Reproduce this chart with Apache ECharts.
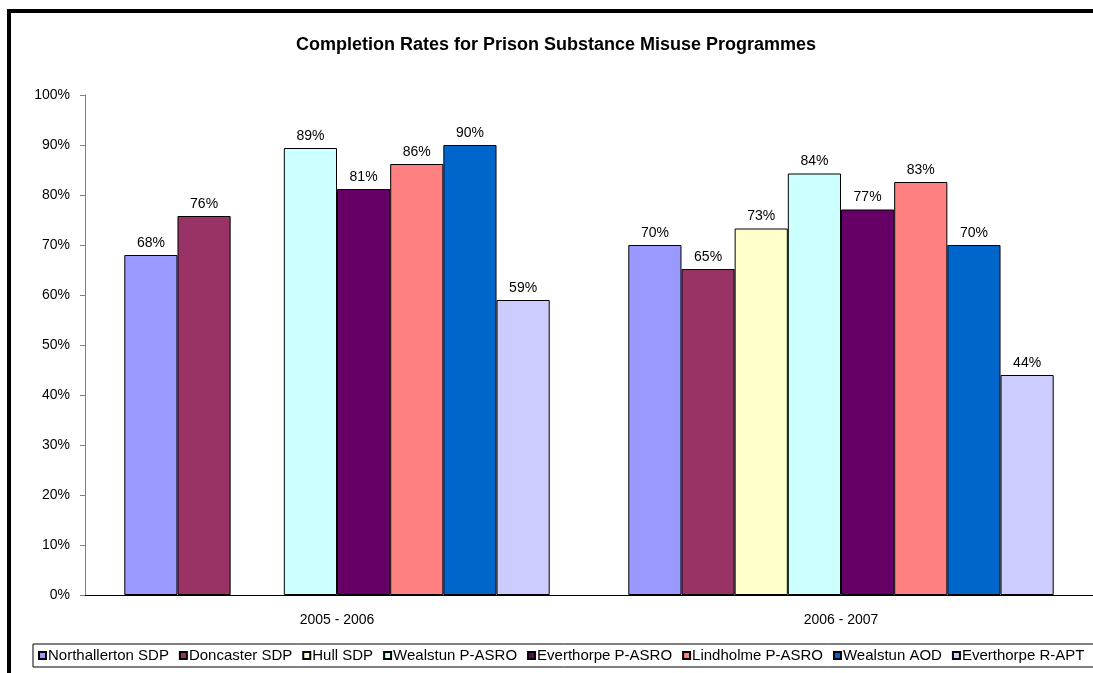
<!DOCTYPE html>
<html>
<head>
<meta charset="utf-8">
<script src="https://cdn.jsdelivr.net/npm/echarts@6/dist/echarts.min.js"></script>
<style>
  html, body { margin: 0; padding: 0; background: #fff; }
  #chart { width: 1093px; height: 673px; }
</style>
</head>
<body>
<div id="chart"></div>
<script>
// periods on the x axis
const periods = ['2005 - 2006', '2006 - 2007'];
// programme names (legend order)
const programmes = ['Northallerton SDP', 'Doncaster SDP', 'Hull SDP', 'Wealstun P-ASRO',
  'Everthorpe P-ASRO', 'Lindholme P-ASRO', 'Wealstun AOD', 'Everthorpe R-APT'];
// completion rates in %, one array per programme (null = no data)
const northallerton = [68.0, 70.0];
const doncaster = [75.8, 65.2];
const hull = [null, 73.3];
const wealstunAsro = [89.4, 84.3];
const everthorpeAsro = [81.2, 77.1];
const lindholme = [86.2, 82.6];
const wealstunAod = [90.0, 70.0];
const everthorpeRapt = [59.0, 44.0];
const yTicks = [0, 10, 20, 30, 40, 50, 60, 70, 80, 90, 100];

const colors = ['#9999ff', '#993366', '#ffffcc', '#ccffff', '#660066', '#ff8080', '#0066cc', '#ccccff'];
const values = [northallerton, doncaster, hull, wealstunAsro, everthorpeAsro, lindholme, wealstunAod, everthorpeRapt];
const font = 'Liberation Sans, Arial, sans-serif';

let myChart = echarts.init(document.getElementById('chart'));
myChart.setOption({
    animation: false,
    color: colors,
    title: {
        text: 'Completion Rates for Prison Substance Misuse Programmes',
        left: 551,
        top: 31,
        textAlign: 'center',
        textStyle: { fontFamily: font, fontSize: 18, fontWeight: 'bold', color: '#000' }
    },
    grid: { left: 85, top: 95, width: 1010, height: 500 },
    legend: {
        data: programmes,
        left: 33,
        top: 644,
        width: 1400,
        padding: [4, 40, 4, 5],
        borderColor: '#000',
        borderWidth: 1,
        itemWidth: 7,
        itemHeight: 7,
        itemGap: 10,
        icon: 'rect',
        textStyle: { fontFamily: font, fontSize: 15, color: '#000', padding: [0, 0, 0, -3] }
    },
    xAxis: {
        type: 'category',
        data: periods,
        axisLine: { lineStyle: { color: '#000', width: 1 } },
        axisTick: { length: 5, lineStyle: { color: '#808080' } },
        axisLabel: { fontFamily: font, fontSize: 14, color: '#000', margin: 18 }
    },
    yAxis: {
        type: 'value',
        min: yTicks[0],
        max: yTicks[yTicks.length - 1],
        interval: 10,
        axisLine: { show: true, lineStyle: { color: '#808080' } },
        axisTick: { show: true, length: 5, lineStyle: { color: '#808080' } },
        splitLine: { show: false },
        axisLabel: { fontFamily: font, fontSize: 14, color: '#000', margin: 15, formatter: '{value}%' }
    },
    series: programmes.map((name, i) => ({
        name: name,
        type: 'bar',
        data: values[i],
        barGap: '0%',
        barCategoryGap: '15.6%',
        itemStyle: { color: colors[i], borderColor: '#000', borderWidth: 1 },
        label: {
            show: true,
            position: 'top',
            distance: 5,
            fontFamily: font,
            fontSize: 14,
            color: '#000',
            formatter: p => Math.round(p.value) + '%'
        }
    })),
    graphic: [{
        type: 'rect',
        shape: { x: 9, y: 11, width: 1200, height: 1200 },
        style: { fill: 'none', stroke: '#000', lineWidth: 4 },
        z: 100
    }]
});
</script>
</body>
</html>
